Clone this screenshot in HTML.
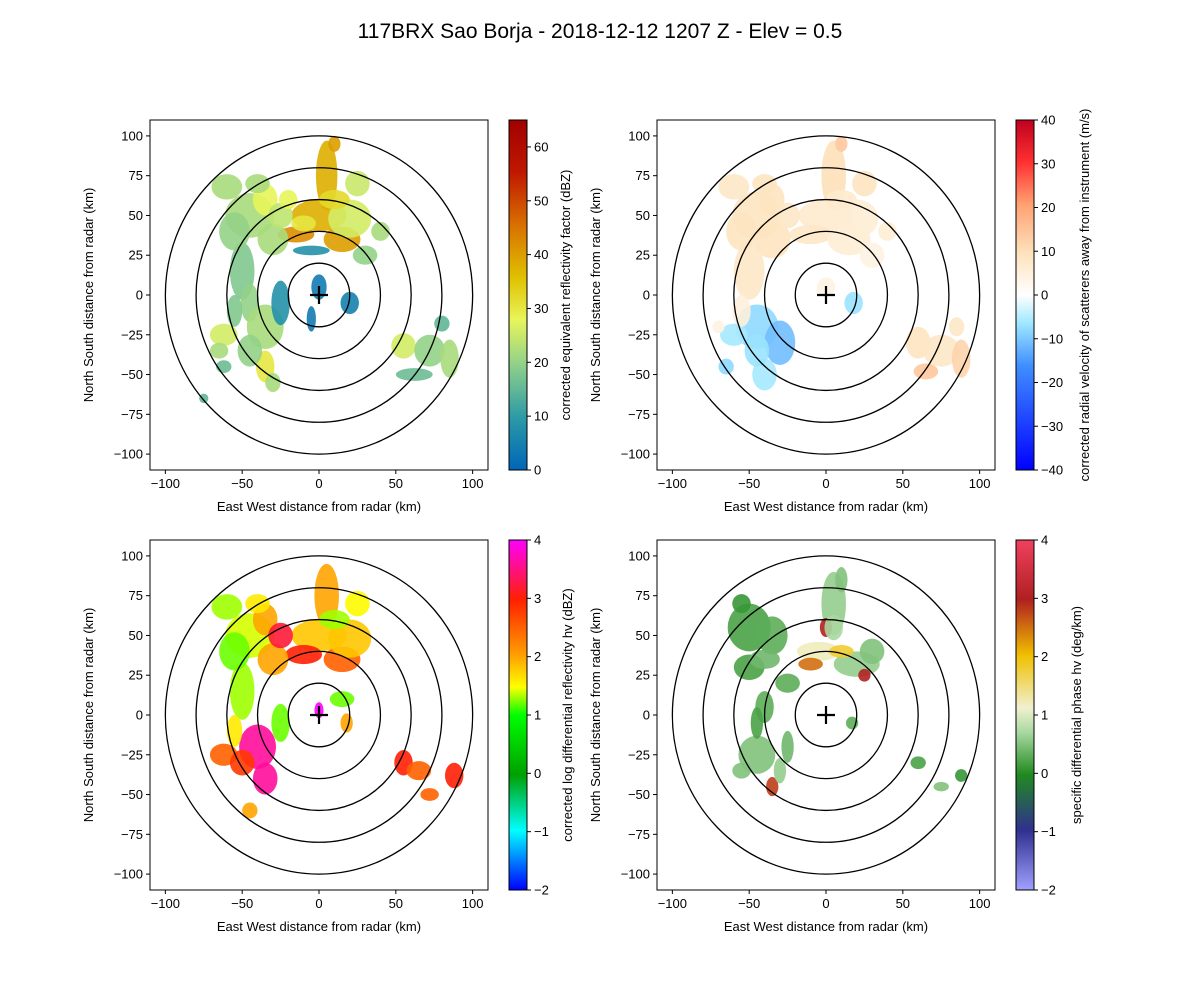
<!DOCTYPE html>
<html><head><meta charset="utf-8"><style>
body{margin:0;background:#fff;}
svg text{font-family:"Liberation Sans","DejaVu Sans",sans-serif;fill:#000;}
</style></head><body>
<svg id="fig" width="1200" height="1000" viewBox="0 0 1200 1000" xmlns="http://www.w3.org/2000/svg">
<rect width="1200" height="1000" fill="#fff"/>
<text x="600" y="38" font-size="21" text-anchor="middle">117BRX Sao Borja - 2018-12-12 1207 Z -  Elev = 0.5</text>
</svg>
<script>
// ---- data (x km, y km, rx km, ry km, value) ----
const reflBlobs=[[5,75,7,22,38],[10,95,4,5,40],[0,50,18,10,38],[-15,38,12,5,42],[15,35,12,8,40],[-5,28,12,3,8],
[-45,50,16,14,22],[-60,68,10,8,22],[-35,60,8,10,28],[-30,35,10,10,22],[-50,15,8,18,18],[-45,-5,6,12,20],
[-35,-20,12,14,22],[-25,-5,6,14,8],[-62,-25,9,7,26],[-35,-45,6,10,30],[-62,-45,5,4,16],[-75,-65,3,3,15],
[20,48,14,12,26],[30,25,8,6,20],[0,5,5,8,4],[20,-5,6,7,5],
[55,-32,8,8,26],[72,-35,10,10,20],[85,-40,6,12,22],[62,-50,12,4,16],[80,-18,5,5,15],[-5,-15,3,8,4],
[-55,40,10,12,20],[-40,70,8,6,22],[-25,50,8,8,24],[-55,-10,5,10,18],[-45,-35,8,10,20],[-30,-55,5,6,22],
[25,70,8,8,25],[-20,60,6,6,28],[40,40,6,6,22],[-10,45,8,5,30],[10,60,10,6,32],[-65,-35,6,5,22]];
const velBlobs=[[5,75,8,22,10],[10,95,4,5,14],[0,50,18,10,7],[-10,38,14,6,8],[15,35,14,10,6],
[-45,50,16,15,9],[-60,68,10,8,8],[-35,60,8,10,9],[-35,35,12,12,9],[-50,15,10,18,8],
[-45,-20,14,14,-8],[-30,-30,10,14,-11],[-60,-25,9,7,-6],[-40,-50,8,10,-6],[-65,-45,5,5,-8],[-70,-20,4,4,4],
[20,48,14,12,6],[30,25,8,8,4],[0,5,6,6,4],[18,-5,6,7,-7],
[60,-30,8,10,9],[75,-35,12,10,8],[88,-40,6,12,12],[65,-48,8,5,14],[85,-20,5,6,8],
[-55,40,10,12,9],[-40,70,8,6,9],[-25,50,8,8,8],[-55,-10,6,10,5],[-45,-35,8,10,-7],[25,70,8,8,9],[40,40,6,6,6],[10,60,10,6,7]];
const zdrBlobs=[[5,75,8,20,2],[0,50,18,10,1.8],[-10,38,12,6,3],[15,35,12,8,2.5],[-45,50,16,14,1.4],[-60,68,10,8,1.3],
[-35,60,8,10,2],[-30,35,10,10,2],[-50,15,8,18,1.3],[-40,-20,12,14,3.6],[-25,-5,6,12,1.2],[-62,-25,9,7,2.5],
[-35,-40,8,10,3.6],[-45,-60,5,5,2],[20,48,14,12,1.8],[0,3,3,5,4],[18,-5,4,6,2],[55,-30,6,8,3],[65,-35,8,6,2.5],
[88,-38,6,8,3],[72,-50,6,4,2.5],[15,10,8,5,1.2],
[-55,40,10,12,1.2],[-40,70,8,6,1.6],[-25,50,8,8,3.2],[25,70,8,8,1.5],[10,60,10,6,1.3],[-55,-10,5,10,1.6],[-50,-30,8,8,2.8]];
const kdpBlobs=[[-50,55,14,15,0.2],[-50,30,10,8,0.2],[-5,40,14,6,1.2],[-10,32,8,4,2.5],[20,32,15,8,0.6],[25,25,4,4,3],
[5,70,8,20,0.6],[0,55,4,6,3],[10,85,4,8,0.5],[-25,20,8,6,0.3],[-40,5,6,10,0.3],[-45,-25,12,12,0.5],
[-35,-45,4,6,2.8],[-55,-35,6,5,0.5],[17,-5,4,4,0.3],[60,-30,5,4,0.2],[75,-45,5,3,0.5],[88,-38,4,4,0.1],[-25,-20,4,10,0.4],
[-35,50,10,12,0.3],[-55,70,6,6,0.1],[-40,35,10,6,0.4],[10,40,8,4,1.8],[30,40,8,8,0.5],[5,55,6,8,0.7],[-45,-5,4,10,0.2],[-30,-35,4,8,0.6]];
const xTicks=[-100,-50,0,50,100];
const yTicks=[-100,-75,-50,-25,0,25,50,75,100];
const ringRadii=[20,40,60,80,100];
const reflTicks=[0,10,20,30,40,50,60];
const velTicks=[-40,-30,-20,-10,0,10,20,30,40];
const zdrTicks=[-2,-1,0,1,2,3,4];
const kdpTicks=[-2,-1,0,1,2,3,4];

// colormaps [frac,color]
const cmRefl=[[0,'#0066b8'],[0.15,'#2c9aa6'],[0.3,'#8fd08a'],[0.43,'#e8f55a'],[0.55,'#e0c000'],[0.7,'#d87000'],[0.85,'#c01800'],[1,'#a00000']];
const cmVel=[[0,'#0000ff'],[0.3,'#4090ff'],[0.42,'#a0e8ff'],[0.5,'#ffffff'],[0.62,'#fde2bc'],[0.76,'#ffa070'],[0.88,'#ff3030'],[1,'#c00020']];
const cmZdr=[[0,'#0000ff'],[0.17,'#00ffff'],[0.33,'#00a000'],[0.5,'#00ff00'],[0.58,'#ffff00'],[0.67,'#ffa000'],[0.83,'#ff2000'],[1,'#ff00ff']];
const cmKdp=[[0,'#a0a0ff'],[0.17,'#303090'],[0.33,'#208a20'],[0.45,'#a8d8a0'],[0.52,'#f0f0d0'],[0.67,'#f0c000'],[0.83,'#b02020'],[1,'#f04060']];

const NS='http://www.w3.org/2000/svg';
const fig=document.getElementById('fig');
function mk(tag,attrs,parent){const e=document.createElementNS(NS,tag);for(const k in attrs)e.setAttribute(k,attrs[k]);(parent||fig).appendChild(e);return e;}
function hex(c){return [parseInt(c.slice(1,3),16),parseInt(c.slice(3,5),16),parseInt(c.slice(5,7),16)];}
function cmap(cm,f){f=Math.max(0,Math.min(1,f));for(let i=1;i<cm.length;i++){if(f<=cm[i][0]){const a=cm[i-1],b=cm[i];const t=(f-a[0])/(b[0]-a[0]);const A=hex(a[1]),B=hex(b[1]);return 'rgb('+A.map((v,j)=>Math.round(v+(B[j]-v)*t)).join(',')+')';}}return cm[cm.length-1][1];}

const panels=[
 {id:'reflectivity',x:150,y:120,blobs:reflBlobs,cm:cmRefl,vmin:0,vmax:65,ticks:reflTicks,lo:43,label:'corrected equivalent reflectivity factor (dBZ)'},
 {id:'velocity',x:657,y:120,blobs:velBlobs,cm:cmVel,vmin:-40,vmax:40,ticks:velTicks,lo:55,label:'corrected radial velocity of scatterers away from instrument (m/s)'},
 {id:'zdr',x:150,y:540,blobs:zdrBlobs,cm:cmZdr,vmin:-2,vmax:4,ticks:zdrTicks,lo:45,label:'corrected log differential reflectivity hv (dBZ)'},
 {id:'kdp',x:657,y:540,blobs:kdpBlobs,cm:cmKdp,vmin:-2,vmax:4,ticks:kdpTicks,lo:47,label:'specific differential phase hv (deg/km)'}
];
const W=338,H=350,R=110;
panels.forEach((p,pi)=>{
 const sx=v=>p.x+(v+R)/(2*R)*W, sy=v=>p.y+(R-v)/(2*R)*H;
 const g=mk('g',{});
 
 
 const cp=mk('clipPath',{id:'clip'+pi},g);mk('rect',{x:p.x,y:p.y,width:W,height:H},cp);
 const dg=mk('g',{'clip-path':'url(#clip'+pi+')'},g);
 p.blobs.forEach((b,i)=>{
  const e=mk('ellipse',{cx:sx(b[0]),cy:sy(b[1]),rx:b[2]*W/(2*R),ry:b[3]*H/(2*R),fill:cmap(p.cm,(b[4]-p.vmin)/(p.vmax-p.vmin)),'fill-opacity':0.9},dg);
  
  
 });
 ringRadii.forEach(r=>{
  const c=mk('ellipse',{cx:sx(0),cy:sy(0),rx:r*W/(2*R),ry:r*H/(2*R),fill:'none',stroke:'#000','stroke-width':1.3},g);
  
  
 });
 mk('path',{d:`M${sx(0)-9},${sy(0)}h18M${sx(0)},${sy(0)-9}v18`,stroke:'#000','stroke-width':2.2},g);
 mk('rect',{x:p.x,y:p.y,width:W,height:H,fill:'none',stroke:'#000','stroke-width':1},g);
 xTicks.forEach(t=>{const X=sx(t);mk('line',{x1:X,x2:X,y1:p.y+H,y2:p.y+H+4,stroke:'#000'},g);
  const tx=mk('text',{x:X,y:p.y+H+18,'font-size':13,'text-anchor':'middle'},g);tx.textContent=t<0?'\u2212'+(-t):t;});
 yTicks.forEach(t=>{const Y=sy(t);mk('line',{x1:p.x-4,x2:p.x,y1:Y,y2:Y,stroke:'#000'},g);
  const tx=mk('text',{x:p.x-7,y:Y+4.5,'font-size':13,'text-anchor':'end'},g);tx.textContent=t<0?'\u2212'+(-t):t;});
 const xl=mk('text',{x:p.x+W/2,y:p.y+H+41,'font-size':13,'text-anchor':'middle'},g);xl.textContent='East West distance from radar (km)';
 
 const yl=mk('text',{x:0,y:0,'font-size':13,'text-anchor':'middle',transform:`translate(${p.x-57},${p.y+H/2}) rotate(-90)`},g);yl.textContent='North South distance from radar (km)';
 
 // colorbar
 const cx=p.x+359,cw=18;
 const gid='grad'+pi;const lg=mk('linearGradient',{id:gid,x1:0,y1:1,x2:0,y2:0},g);
 p.cm.forEach(s=>mk('stop',{offset:s[0],'stop-color':s[1]},lg));
 const cb=mk('rect',{x:cx,y:p.y,width:cw,height:H,fill:'url(#'+gid+')',stroke:'#000','stroke-width':1},g);
 
 p.ticks.forEach(t=>{const Y=p.y+H-(t-p.vmin)/(p.vmax-p.vmin)*H;mk('line',{x1:cx+cw,x2:cx+cw+4,y1:Y,y2:Y,stroke:'#000'},g);
  const tx=mk('text',{x:cx+cw+7,y:Y+4.5,'font-size':13},g);tx.textContent=t<0?'\u2212'+(-t):t;});
 const cl=mk('text',{x:0,y:0,'font-size':13,'text-anchor':'middle',transform:`translate(${cx+cw+p.lo},${p.y+H/2}) rotate(-90)`},g);cl.textContent=p.label;
 
});
</script>
</body></html>
